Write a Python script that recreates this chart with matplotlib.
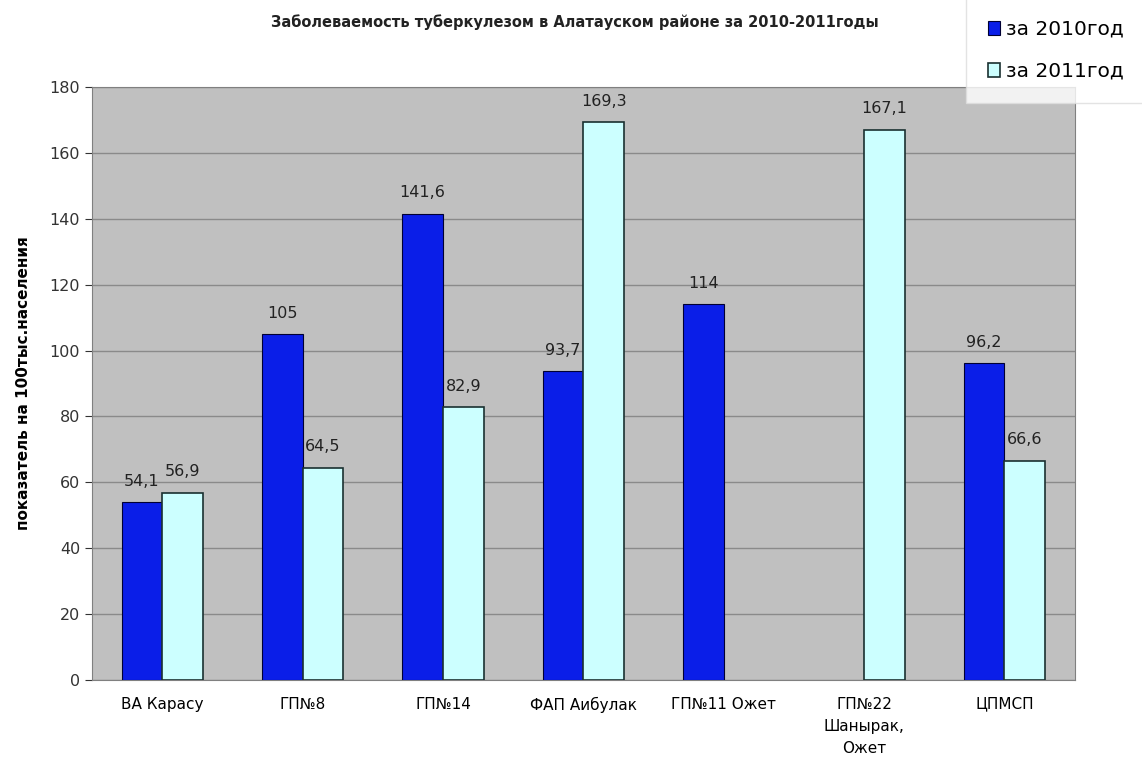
import numpy as np
import matplotlib
matplotlib.use("Agg")
import matplotlib.pyplot as plt

kategorije = ["ВА Карасу", "ГП№8", "ГП№14", "ФАП Аибулак", "ГП№11 Ожет",
              "ГП№22\nШанырак,\nОжет", "ЦПМСП"]
v2010 = [54.1, 105, 141.6, 93.7, 114, None, 96.2]
v2011 = [56.9, 64.5, 82.9, 169.3, None, 167.1, 66.6]
oznake2010 = ["54,1", "105", "141,6", "93,7", "114", "", "96,2"]
oznake2011 = ["56,9", "64,5", "82,9", "169,3", "", "167,1", "66,6"]

fig = plt.figure(figsize=(11.42, 7.75), dpi=100)
axes = fig.add_axes([0.0806, 0.1226, 0.8604, 0.7651])
axes.set_facecolor("#c0c0c0")

x = np.arange(len(kategorije))
w = 0.29
h2010 = np.array([v if v is not None else np.nan for v in v2010], dtype=float)
h2011 = np.array([v if v is not None else np.nan for v in v2011], dtype=float)
b1 = axes.bar(x - w / 2, h2010, w, color="#0a1ee8", edgecolor="#000033", linewidth=0.8,
              label="за 2010год", zorder=3)
b2 = axes.bar(x + w / 2, h2011, w, color="#ccffff", edgecolor="#1a3030", linewidth=1.2,
              label="за 2011год", zorder=3)
for i in range(len(x)):
    if v2010[i] is not None:
        axes.text(x[i] - w / 2, v2010[i] + 4, oznake2010[i], ha="center", va="bottom",
                  fontsize=11.5, color="#222222", zorder=4)
    if v2011[i] is not None:
        axes.text(x[i] + w / 2, v2011[i] + 4, oznake2011[i], ha="center", va="bottom",
                  fontsize=11.5, color="#222222", zorder=4)

axes.set_xlim(-0.5, len(kategorije) - 0.5)
axes.set_ylim(0, 180)
axes.set_yticks(np.arange(0, 181, 20))
axes.yaxis.grid(True, color="#8a8a8a", linewidth=1, zorder=0)
axes.set_xticks(x)
axes.set_xticklabels(kategorije, fontsize=11, linespacing=1.6)
axes.tick_params(axis="x", length=0, pad=12)
axes.tick_params(axis="y", labelsize=11.5, colors="#333333", length=5)
for s in axes.spines.values():
    s.set_color("#808080")
axes.set_ylabel("показатель на 100тыс.населения", fontsize=11, fontweight="bold")
axes.yaxis.set_label_coords(-0.062, 0.5)

fig.text(0.503, 0.972, "Заболеваемость туберкулезом в Алатауском районе за 2010-2011годы",
         ha="center", va="center", fontsize=10.5, fontweight="bold", color="#222222")

leg = fig.legend(handles=[b1, b2], loc="upper right", bbox_to_anchor=(1.003, 1.003),
                 fontsize=14.5, frameon=True, fancybox=False, handlelength=0.6,
                 handletextpad=0.25, labelspacing=1.15, borderpad=1.1, borderaxespad=0)
leg.get_frame().set_edgecolor("#dddddd")
leg.get_frame().set_linewidth(1)

fig.savefig("out.png", dpi=100)
